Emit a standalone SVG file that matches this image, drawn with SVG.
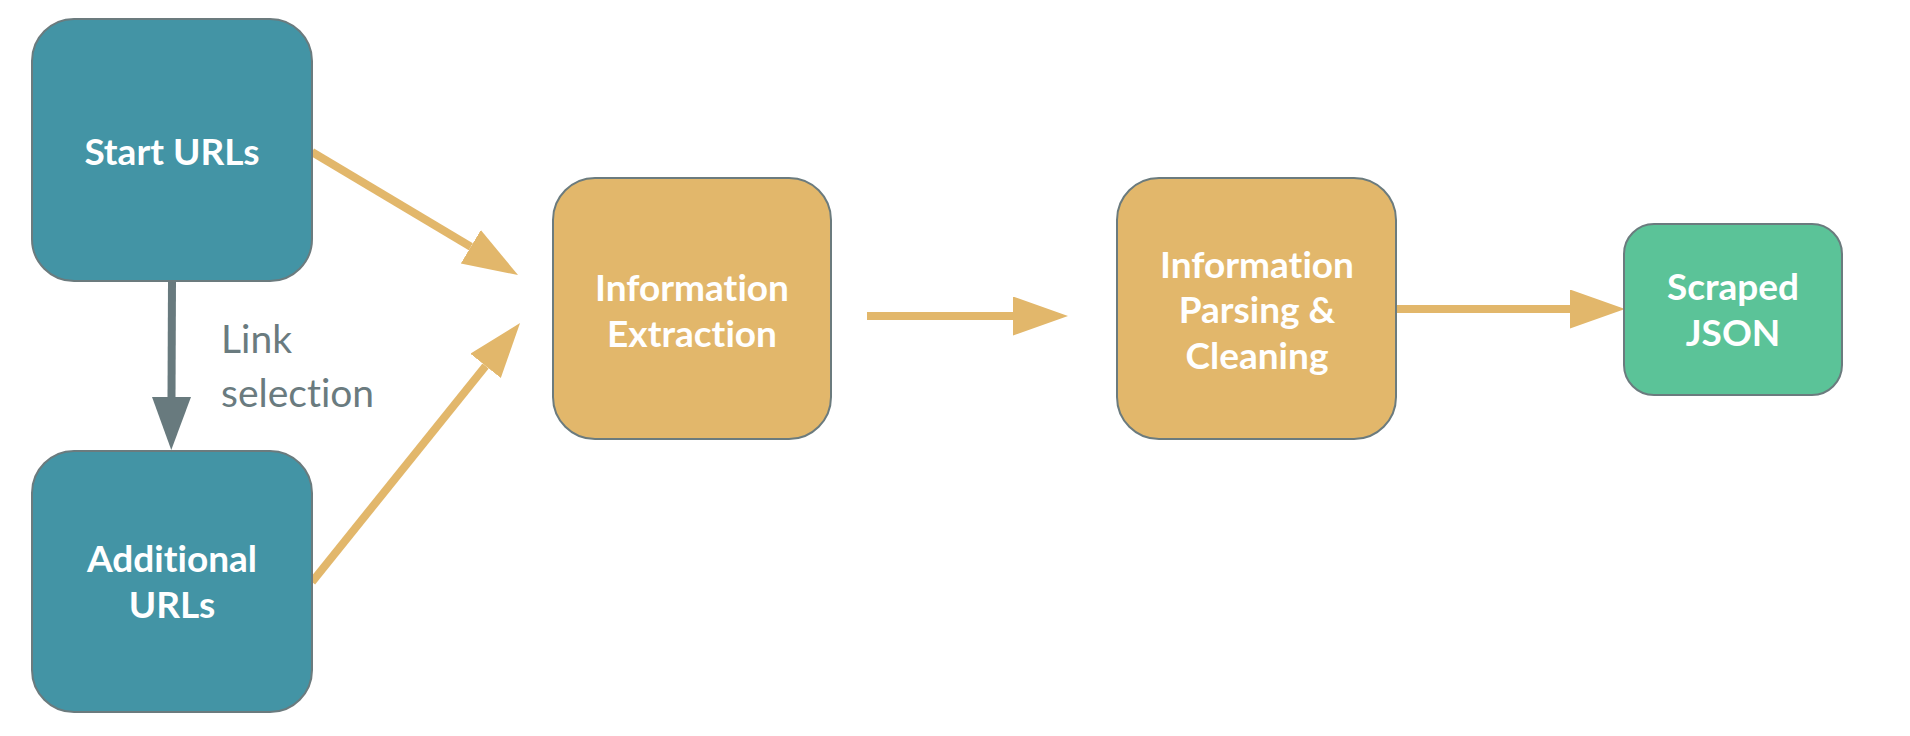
<svg xmlns="http://www.w3.org/2000/svg" width="1910" height="736" viewBox="0 0 1910 736">
<style>
.box{stroke:#6b7b7e;stroke-width:2}
.teal{fill:#4394a5}
.gold{fill:#e2b76b}
.green{fill:#5bc398}
.lbl{font-family:Lato,"Open Sans","Liberation Sans",sans-serif;font-weight:bold;font-size:37px;fill:#ffffff;text-anchor:middle;font-variant-ligatures:none}
.note{font-family:Lato,"Open Sans","Liberation Sans",sans-serif;font-size:39px;fill:#6a7b7f;font-variant-ligatures:none}
.cg{stroke:#e2b76b;stroke-width:8;fill:none}
.cs{stroke:#687a7e;stroke-width:8;fill:none}
</style>
<defs>
<marker id="ag" markerUnits="userSpaceOnUse" markerWidth="56" markerHeight="40" refX="0" refY="19.5" orient="auto"><path d="M0,0 L55,19.5 L0,39 z" fill="#e2b76b"/></marker>
<marker id="as" markerUnits="userSpaceOnUse" markerWidth="56" markerHeight="40" refX="0" refY="19.5" orient="auto"><path d="M0,0 L53,19.5 L0,39 z" fill="#687a7e"/></marker>
</defs>
<rect width="1910" height="736" fill="#ffffff"/>
<g id="connectors">
<path class="cg" d="M312,152 L470.8,246.8" marker-end="url(#ag)"/>
<path class="cg" d="M312,582 L485.6,365.9" marker-end="url(#ag)"/>
<path class="cs" d="M172,281 L171.5,397" marker-end="url(#as)"/>
<path class="cg" d="M867,316 L1013,316" marker-end="url(#ag)"/>
<path class="cg" d="M1396,309 L1570,309" marker-end="url(#ag)"/>
<text class="note" x="221" y="353">Link</text>
<text class="note" x="221" y="407">selection</text>
</g>
<g id="start-urls">
<rect class="box teal" x="32" y="19" width="280" height="262" rx="42"/>
<text class="lbl" x="172" y="165">Start URLs</text>
</g>
<g id="additional-urls">
<rect class="box teal" x="32" y="451" width="280" height="261" rx="42"/>
<text class="lbl" x="172" y="572">Additional</text>
<text class="lbl" x="172" y="618">URLs</text>
</g>
<g id="information-extraction">
<rect class="box gold" x="553" y="178" width="278" height="261" rx="42"/>
<text class="lbl" x="692" y="301">Information</text>
<text class="lbl" x="692" y="347">Extraction</text>
</g>
<g id="information-parsing">
<rect class="box gold" x="1117" y="178" width="279" height="261" rx="42"/>
<text class="lbl" x="1257" y="278">Information</text>
<text class="lbl" x="1257" y="323">Parsing &amp;</text>
<text class="lbl" x="1257" y="369">Cleaning</text>
</g>
<g id="scraped-json">
<rect class="box green" x="1624" y="224" width="218" height="171" rx="30"/>
<text class="lbl" x="1733" y="300">Scraped</text>
<text class="lbl" x="1733" y="346">JSON</text>
</g>
</svg>
